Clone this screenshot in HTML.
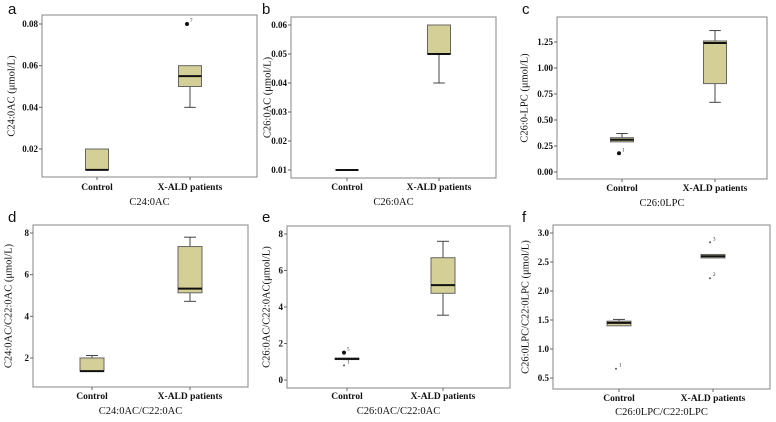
<!DOCTYPE html>
<html><head><meta charset="utf-8"><style>
body{margin:0;background:#fff;width:776px;height:422px;overflow:hidden}
svg{display:block}
svg text{font-family:"Liberation Serif","DejaVu Serif",serif;fill:#111}
.tk{font-family:"Liberation Serif","DejaVu Serif",serif;font-size:9px;font-weight:bold}
.cat{font-family:"Liberation Serif","DejaVu Serif",serif;font-size:9.5px;font-weight:bold}
.ttl{font-family:"Liberation Serif","DejaVu Serif",serif;font-size:10.5px}
svg text.let{font-family:"Liberation Sans",sans-serif;font-size:15px}
</style></head><body>
<svg id="chart" width="776" height="422"></svg>
<script>
// categories
const categories = ["Control","X-ALD patients"];
// stats per group: [whiskerLow, q1, median, q3, whiskerHigh]
const aStats = [[0.01,0.01,0.01,0.02,0.02],[0.04,0.05,0.055,0.06,0.06]];
const bStats = [[0.01,0.01,0.01,0.01,0.01],[0.04,0.05,0.05,0.06,0.06]];
const cStats = [[0.29,0.29,0.31,0.33,0.37],[0.67,0.85,1.24,1.26,1.36]];
const dStats = [[1.37,1.37,1.37,2.0,2.12],[4.72,5.13,5.33,7.35,7.8]];
const eStats = [[1.12,1.12,1.16,1.2,1.2],[3.55,4.75,5.2,6.7,7.6]];
const fStats = [[1.4,1.4,1.45,1.48,1.51],[2.57,2.57,2.6,2.63,2.63]];
// outliers: [groupIndex, value, label, type]
const aOut = [[1,0.08,"7","dot"]];
const bOut = [];
const cOut = [[0,0.18,"1","dot"]];
const dOut = [];
const eOut = [[0,1.5,"5","dot"],[0,0.8,"1","star"]];
const fOut = [[0,0.66,"1","star"],[1,2.84,"3","star"],[1,2.22,"2","star"]];
// tick labels
const aTicks = ["0.02","0.04","0.06","0.08"];
const bTicks = ["0.01","0.02","0.03","0.04","0.05","0.06"];
const cTicks = ["0.00","0.25","0.50","0.75","1.00","1.25"];
const dTicks = ["2","4","6","8"];
const eTicks = ["0","2","4","6","8"];
const fTicks = ["0.5","1.0","1.5","2.0","2.5","3.0"];

const svg=document.getElementById('chart');
const NS='http://www.w3.org/2000/svg';
const SERIF='"Liberation Serif","DejaVu Serif",serif';
function mk(tag,at,parent){const e=document.createElementNS(NS,tag);for(const k in at)e.setAttribute(k,at[k]);(parent||svg).appendChild(e);return e;}

const panels=[
 {letter:"a",lx:8,ly:14,x0:42,x1:257,y0:15,y1:177,v0:0.08,p0:24,v1:0.02,p1:149,cx:[97,190],bw:23,stats:aStats,out:aOut,ticks:aTicks,ytitle:"C24:0AC (μmol/L)",yt:12,title:"C24:0AC",cy:190,ty:205},
 {letter:"b",lx:262,ly:14,x0:291,x1:496,y0:17,y1:178,v0:0.06,p0:25,v1:0.01,p1:170,cx:[347,439],bw:23,stats:bStats,out:bOut,ticks:bTicks,ytitle:"C26:0AC (μmol/L)",yt:268,title:"C26:0AC",cy:190,ty:205},
 {letter:"c",lx:522,ly:14,x0:557,x1:767,y0:17,y1:179,v0:1.25,p0:42,v1:0,p1:172,cx:[622,715],bw:23,stats:cStats,out:cOut,ticks:cTicks,ytitle:"C26:0-LPC (μmol/L)",yt:525,title:"C26:0LPC",cy:191,ty:206},
 {letter:"d",lx:8,ly:222,x0:33,x1:248,y0:225,y1:387,v0:8,p0:233,v1:2,p1:358,cx:[92,190],bw:24,stats:dStats,out:dOut,ticks:dTicks,ytitle:"C24:0AC/C22:0AC (μmol/L)",yt:9,title:"C24:0AC/C22:0AC",cy:399,ty:414},
 {letter:"e",lx:262,ly:222,x0:287,x1:510,y0:226,y1:388,v0:8,p0:234,v1:0,p1:380,cx:[347,443],bw:24,stats:eStats,out:eOut,ticks:eTicks,ytitle:"C26:0AC/C22:0AC(μmol/L)",yt:267,title:"C26:0AC/C22:0AC",cy:399,ty:414},
 {letter:"f",lx:522,ly:222,x0:553,x1:770,y0:225,y1:389,v0:3.0,p0:233,v1:0.5,p1:378,cx:[619,713],bw:24,stats:fStats,out:fOut,ticks:fTicks,ytitle:"C26:0LPC/C22:0LPC (μmol/L)",yt:526,title:"C26:0LPC/C22:0LPC",cy:401,ty:415}
];

panels.forEach(p=>{
 const g=mk('g',{});
 
 
 const y=v=>p.p0+(p.v0-v)*(p.p1-p.p0)/(p.v0-p.v1);
 const lt=mk('text',{x:p.lx,y:p.ly,class:'let'},g);lt.textContent=p.letter;
 
 const fr=mk('rect',{x:p.x0,y:p.y0,width:p.x1-p.x0,height:p.y1-p.y0,fill:'none',stroke:'#999','stroke-width':1.2},g);
 
 p.ticks.forEach(t=>{
  const v=parseFloat(t),yy=y(v);
  mk('line',{x1:p.x0-3,x2:p.x0,y1:yy,y2:yy,stroke:'#666'},g);
  const tx=mk('text',{x:p.x0-4,y:yy+3,class:'tk','text-anchor':'end','font-family':SERIF,'font-weight':'bold'},g);tx.textContent=t;
  
 });
 categories.forEach((c,i)=>{
  const x=p.cx[i];
  mk('line',{x1:x,x2:x,y1:p.y1,y2:p.y1+3,stroke:'#666'},g);
  const tx=mk('text',{x:x,y:p.cy,class:'cat','text-anchor':'middle','font-family':SERIF,'font-weight':'bold'},g);tx.textContent=c;
  
  const s=p.stats[i],h=p.bw/2,w=p.bw*0.5/2;
  const bx=mk('g',{},g);
  
  
  if(s[0]<s[1]){mk('line',{x1:x,x2:x,y1:y(s[1]),y2:y(s[0]),stroke:'#444'},bx);mk('line',{x1:x-w,x2:x+w,y1:y(s[0]),y2:y(s[0]),stroke:'#444'},bx);}
  if(s[4]>s[3]){mk('line',{x1:x,x2:x,y1:y(s[3]),y2:y(s[4]),stroke:'#444'},bx);mk('line',{x1:x-w,x2:x+w,y1:y(s[4]),y2:y(s[4]),stroke:'#444'},bx);}
  const hh=Math.max(y(s[1])-y(s[3]),0.1);
  if(hh>1)mk('rect',{x:x-h,y:y(s[3]),width:p.bw,height:hh,fill:'#d4cf96',stroke:'#666'},bx);
  mk('line',{x1:x-h,x2:x+h,y1:y(s[2]),y2:y(s[2]),stroke:'#111','stroke-width':2},bx);
 });
 p.out.forEach(o=>{
  const x=p.cx[o[0]]-3,yy=y(o[1]);
  const og=mk('g',{},g);
  
  
  if(o[3]==='dot')mk('circle',{cx:x,cy:yy,r:2,fill:'#111'},og);
  else mk('circle',{cx:x,cy:yy,r:1,fill:'#555'},og);
  const t=mk('text',{x:x+3,y:yy-2,'font-size':5,fill:'#555','font-family':SERIF},og);t.textContent=o[2];
 });
 const yc=(p.y0+p.y1)/2;
 const yt=mk('text',{x:p.yt,y:yc,class:'ttl','text-anchor':'middle','font-family':SERIF,transform:`rotate(-90 ${p.yt} ${yc})`,'dominant-baseline':'central'},g);
 yt.textContent=p.ytitle;
 
 const xt=mk('text',{x:(p.x0+p.x1)/2,y:p.ty,class:'ttl','text-anchor':'middle','font-family':SERIF},g);
 xt.textContent=p.title;
 
});
</script>
</body></html>
